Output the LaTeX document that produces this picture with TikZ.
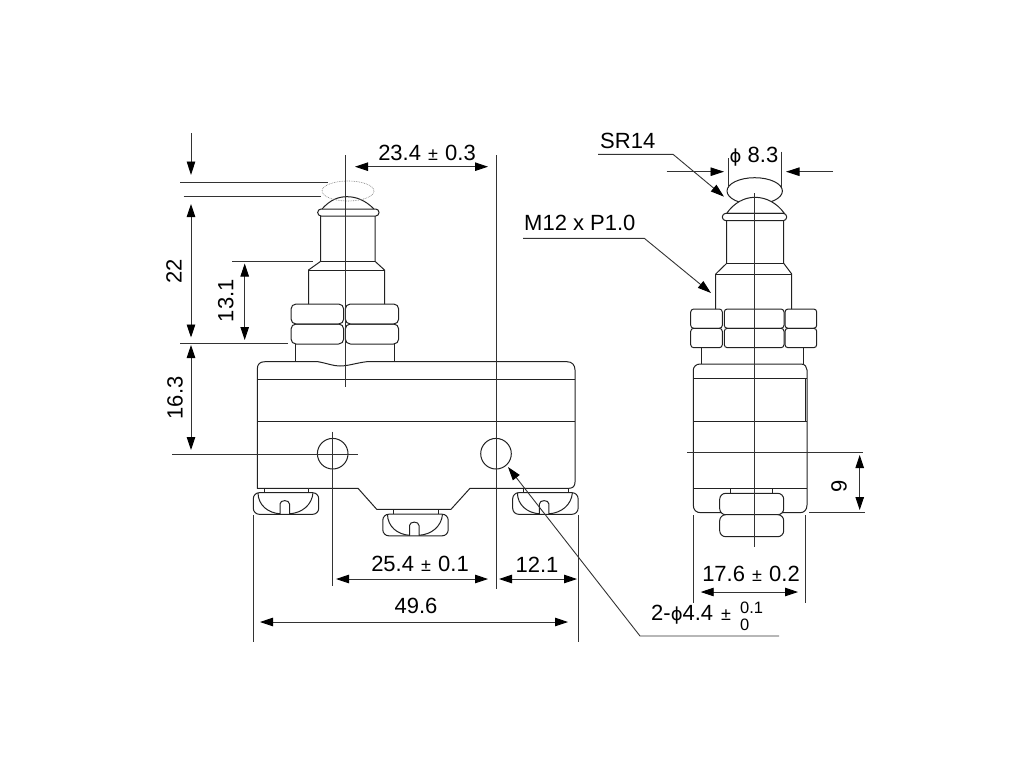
\documentclass[tikz,border=0pt]{standalone}
\usepackage{fontspec}
\setmainfont{Liberation Sans}
\newfontfamily\symfont{DejaVu Sans}
\usetikzlibrary{arrows.meta}
\definecolor{inkc}{HTML}{222222}
\definecolor{dimc}{HTML}{333333}
\newcommand{\phisym}{{\symfont\fontsize{18}{18}\selectfont ϕ}}
\newcommand{\pmsym}{\kern1pt{\fontsize{18}{18}\selectfont ±}\kern1pt}
\tikzset{
  part/.style={draw=inkc,line width=1pt,line join=round},
  dimline/.style={draw=dimc,line width=0.9pt},
  dimarrow/.style={dimline,{Triangle[length=13pt,width=8.5pt,color=black]}-{Triangle[length=13pt,width=8.5pt,color=black]}},
  leader/.style={dimline,-{Triangle[length=13.5pt,width=8.5pt,color=black]}},
  lab/.style={inner sep=0pt,font=\fontsize{22}{22}\selectfont,text=black},
  smalllab/.style={inner sep=0pt,font=\fontsize{16.5}{17}\selectfont,text=black},
  nut/.style={part,rounded corners=5pt},
}
\newcommand{\screwdraw}[2]{%
 \begin{scope}[shift={(#1,#2)}]
  \draw[part,fill=white] (264,488.3) rectangle (308.7,492.7);
  \draw[part,fill=white,rounded corners=6pt] (253.3,492.7) rectangle (318.7,514.3);
  \draw[part] (258,492.7) .. controls (258,505) and (268,513) .. (280,513.8) -- (280,504)
     .. controls (280,499.5) and (289.5,499.5) .. (289.5,504) -- (289.5,513.8)
     .. controls (302,513) and (312,505) .. (313,492.7);
 \end{scope}}
\begin{document}
\begin{tikzpicture}[x=1pt,y=-1pt]
\useasboundingbox[fill=white] (0,0) rectangle (1024,768);

% ---------- left view: switch body ----------
\draw[part] (257.3,488.3) -- (257.3,369) .. controls (257.3,364) and (260,361.7) .. (265,361.7)
  -- (318,361.7) .. controls (328,363.5) and (333,366) .. (340,366)
  .. controls (348,366) and (356,363) .. (366.7,361.7) -- (567,361.7)
  .. controls (572,361.7) and (575,365) .. (575,370) -- (575,482)
  .. controls (575,486) and (573,488.3) .. (569,488.3) -- (470,488.3) -- (451,509.3) -- (376.7,509.3) -- (358,488.3) -- cycle;
\draw[part] (257.3,379) -- (575,379);
\draw[part] (257.3,421.3) -- (575,421.3);
\draw[part] (332.7,453.7) circle[radius=15.3];
\draw[part] (496,453.7) circle[radius=15.3];
\screwdraw{0}{0}
\screwdraw{129.5}{21.5}
\screwdraw{259.4}{0}

% left view: plunger
\draw[part] (295,344) -- (295,361.7);
\draw[part] (394,344) -- (394,361.7);
\draw[nut] (291,304) rectangle (343.7,324);
\draw[nut] (291,324) rectangle (343.7,344);
\draw[nut] (345.3,304) rectangle (398.7,324);
\draw[nut] (345.3,324) rectangle (398.7,344);
\draw[part] (308.5,304) -- (308.5,270) -- (320.7,261.3) -- (320.7,216);
\draw[part] (384.5,304) -- (384.5,270) -- (375,261.3) -- (375,216);
\draw[part] (308.5,270) -- (384.5,270);
\draw[part] (320.7,261.3) -- (375,261.3);
\draw[part] (322,209) .. controls (330,200) and (338,196.7) .. (347,196.7) .. controls (356,196.7) and (365,200) .. (374,209);
\draw[part,rounded corners=3.4pt] (317.7,209) rectangle (379,216);
\draw[draw=gray,densely dotted,line width=0.7pt] (348,191) ellipse[x radius=26,y radius=10];

% ---------- right view ----------
\draw[part] (754.7,191) ellipse[x radius=27.7,y radius=13.3];
\draw[part,fill=white] (726.7,213.3) .. controls (734,203) and (744,197.3) .. (755,197.3) .. controls (766,197.3) and (777,203) .. (784.3,213.3) -- cycle;
\draw[part,rounded corners=3.6pt] (722.3,213.3) rectangle (786.7,220.7);
\draw[part] (715.7,309) -- (715.7,274) -- (726.7,263.3) -- (726.7,220.7);
\draw[part] (791.7,309) -- (791.7,274) -- (783.7,263.3) -- (783.7,220.7);
\draw[part] (715.7,274) -- (791.7,274);
\draw[part] (726.7,263.3) -- (783.7,263.3);
\draw[nut,rounded corners=3pt] (690.7,309) rectangle (722.3,328.3);
\draw[nut,rounded corners=3pt] (690.7,328.3) rectangle (722.3,347.7);
\draw[nut,rounded corners=3pt] (724.3,309) rectangle (784,328.3);
\draw[nut,rounded corners=3pt] (724.3,328.3) rectangle (784,347.7);
\draw[nut,rounded corners=3pt] (785,309) rectangle (816.7,328.3);
\draw[nut,rounded corners=3pt] (785,328.3) rectangle (816.7,347.7);
\draw[part] (701,347.7) -- (701,364);
\draw[part] (803.3,347.7) -- (803.3,364);
\draw[part] (700,364) -- (801,364) .. controls (805,364) and (807,367) .. (807,370)
  -- (807,505) .. controls (807,510) and (804,512.7) .. (800,512.7) -- (701,512.7)
  .. controls (696,512.7) and (693.3,510) .. (693.3,505) -- (693.3,370)
  .. controls (693.3,367) and (696,364) .. (700,364) -- cycle;
\draw[part] (693.3,378.3) -- (807,378.3);
\draw[part] (693.3,421) -- (807,421);
\draw[part] (693.3,488.7) -- (807,488.7);
\draw[part] (805.8,378.3) -- (805.8,421);
\draw[part,fill=white] (730.7,488.7) rectangle (772.7,493.3);
\draw[part,fill=white,rounded corners=6pt] (719.7,493.3) rectangle (783.7,514.7);
\draw[part,fill=white,rounded corners=6pt] (719.7,514.7) rectangle (783.7,536.7);

% ---------- centre and extension lines ----------
\draw[dimline] (345.7,155) -- (345.7,387);
\draw[dimline] (496,155) -- (496,589);
\draw[dimline] (172,454) -- (358,454);
\draw[dimline] (332.7,431.7) -- (332.7,586);
\draw[dimline] (180,182) -- (328,182);
\draw[dimline] (183.5,196) -- (321,196);
\draw[dimline] (232,261.7) -- (313,261.7);
\draw[dimline] (180,343.7) -- (288,343.7);
\draw[dimline] (253.3,515) -- (253.3,642);
\draw[dimline] (578,515) -- (578,642);
\draw[dimline] (754,193) -- (754,547);
\draw[dimline] (687,452.3) -- (863,452.3);
\draw[dimline] (809,512.7) -- (865,512.7);
\draw[dimline] (693.3,515) -- (693.3,603);
\draw[dimline] (805.7,515) -- (805.7,603);
\draw[dimline] (728,158) -- (728,188);
\draw[dimline] (781.7,151.7) -- (781.7,187);

% ---------- dimension arrows ----------
\draw[leader] (191,133) -- (191,175);
\draw[dimarrow] (191,204) -- (191,337.5);
\draw[dimarrow] (191,345) -- (191,450);
\draw[dimarrow] (244.7,263.5) -- (244.7,340);
\draw[dimarrow] (355,166.7) -- (488,166.7);
\draw[dimarrow] (336,579) -- (488,579);
\draw[dimarrow] (499,579) -- (577,579);
\draw[dimarrow] (260,622) -- (568,622);
\draw[dimarrow] (700.7,592) -- (798,592);
\draw[dimarrow] (859.7,455) -- (859.7,510);
\draw[leader] (666.7,171.7) -- (724,171.7);
\draw[leader] (833,171.7) -- (786,171.7);
\draw[leader] (598,154.3) -- (673,154.3) -- (724,196.7);
\draw[leader] (523,238.3) -- (644.3,238.3) -- (711,293);
\draw[leader] (779,636) -- (640,636) -- (508,467);

% ---------- labels ----------
\node[lab] (dimA) at (427,153) {23.4 \pmsym{} 0.3};
\node[lab,rotate=90] (dimB) at (174,271) {22};
\node[lab,rotate=90] (dimC) at (225.7,300.7) {13.1};
\node[lab,rotate=90] (dimD) at (175,398) {16.3};
\node[lab] (dimE) at (420,564) {25.4 \pmsym{} 0.1};
\node[lab] (dimF) at (537,565) {12.1};
\node[lab] (dimG) at (416,606) {49.6};
\node[lab] (dimH) at (751,574) {17.6 \pmsym{} 0.2};
\node[lab,rotate=90] (dimI) at (839,486.7) {9};
\node[lab] (dimJ) at (754,157) {\phisym{} 8.3};
\node[lab,anchor=west] (srlab) at (600,141) {SR14};
\node[lab,anchor=west] (mlab) at (524,223) {M12 x P1.0};
\node[lab,anchor=west] (holelab) at (651,614.5) {2-\phisym{}4.4\kern7pt\pmsym};
\node[smalllab,anchor=west] (tolup) at (740,608) {0.1};
\node[smalllab,anchor=west] (toldn) at (740,625) {0};
\end{tikzpicture}
\end{document}
